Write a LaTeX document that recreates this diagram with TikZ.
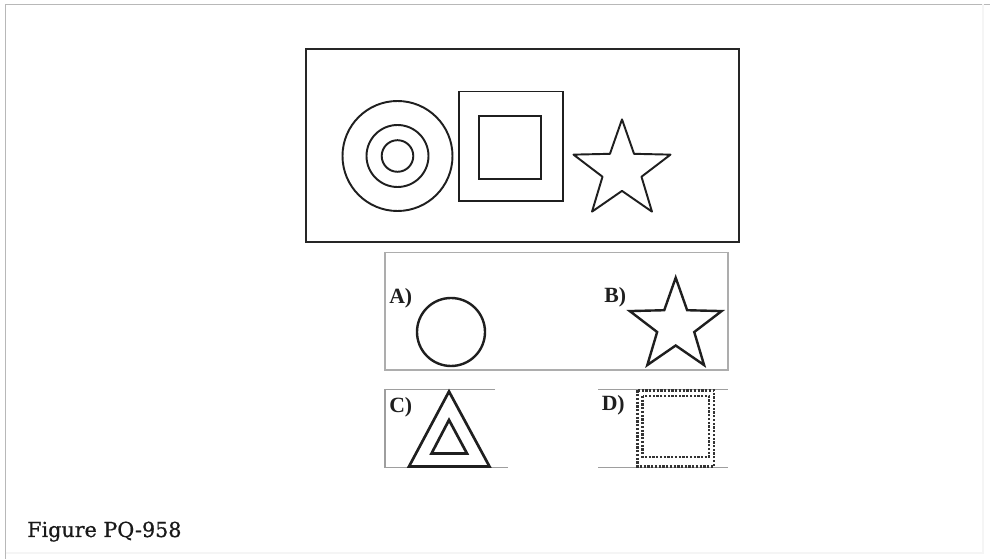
\documentclass[tikz,border=0pt]{standalone}
\usepackage{fontspec}
\setmainfont{Liberation Serif}
\newfontfamily\capfont[FakeBold=0.7]{DejaVu Serif}
\begin{document}
\begin{tikzpicture}[x=0.75pt,y=-0.75pt,
  mainline/.style={draw=black!85,line width=1.9pt},
  shapeline/.style={draw=black!88,line width=1.45pt,line join=miter},
  ansbox/.style={draw=black!32,line width=1.3pt},
  rule/.style={draw=black!38,line width=1pt},
  dashsq/.style={draw=black!80,line width=1.6pt,dash pattern=on 1.7pt off 1.1pt},
  optlabel/.style={anchor=base west,inner sep=0pt,font=\fontsize{16.3}{18}\selectfont\bfseries,text=black!88},
  caption/.style={anchor=base west,inner sep=0pt,font=\capfont\fontsize{15.5}{18}\selectfont,text=black!90}]
\fill[white] (0,0) rectangle (990,559);
\useasboundingbox (0,0) rectangle (990,559);
% faint page frame
\draw[black!28,line width=0.9pt] (5.5,559) -- (5.5,4.5) -- (990,4.5);
\draw[black!4,line width=0.9pt] (5.5,553) -- (983,553) -- (983,4.5);
% main figure box
\draw[mainline] (306,49) rectangle (739,242);
% concentric circles
\coordinate (cc) at (397.5,156);
\draw[shapeline] (cc) circle (55);
\draw[shapeline] (cc) circle (31);
\draw[shapeline] (cc) circle (15.8);
% nested squares
\draw[shapeline] (459,91.5) rectangle (563,201);
\draw[shapeline,line width=1.8pt] (479,116) rectangle (541,179);
% star in main box
\draw[shapeline,line join=round,shift={(622,170.4)}]
  (270:51) -- (306:20.5) -- (342:51) -- (18:20.5) -- (54:51) -- (90:20.5)
  -- (126:51) -- (162:20.5) -- (198:51) -- (234:20.5) -- cycle;
% option box A/B
\draw[ansbox] (385,252.5) rectangle (728,370);
\node[optlabel] (la) at (389,304) {A)};
\draw[shapeline,line width=1.8pt] (451,332) circle (34);
\node[optlabel] (lb) at (604,303) {B)};
\draw[shapeline,line width=1.8pt,shift={(675.7,326)}]
  (270:48.3) -- (306:19.5) -- (342:48.3) -- (18:19.5) -- (54:48.3) -- (90:19.5)
  -- (126:48.3) -- (162:19.5) -- (198:48.3) -- (234:19.5) -- cycle;
% option C
\draw[rule] (495,389.5) -- (385,389.5) -- (385,467.5) -- (508,467.5);
\node[optlabel] (lc) at (389,412.5) {C)};
\draw[shapeline,line width=2pt] (449,391.5) -- (489.5,466.5) -- (409,466.5) -- cycle;
\draw[shapeline,line width=2pt] (449,420) -- (467,453.5) -- (431.5,453.5) -- cycle;
% option D
\draw[rule] (598,389.5) -- (728,389.5);
\draw[rule] (598,467.5) -- (728,467.5);
\node[optlabel] (ld) at (601.5,410.5) {D)};
\draw[dashsq] (637.5,390.5) rectangle (714,466.5);
\draw[dashsq] (642.5,396) rectangle (709,457);
% caption
\node[caption] (cap) at (27,537) {Figure PQ-958};
\end{tikzpicture}
\end{document}
